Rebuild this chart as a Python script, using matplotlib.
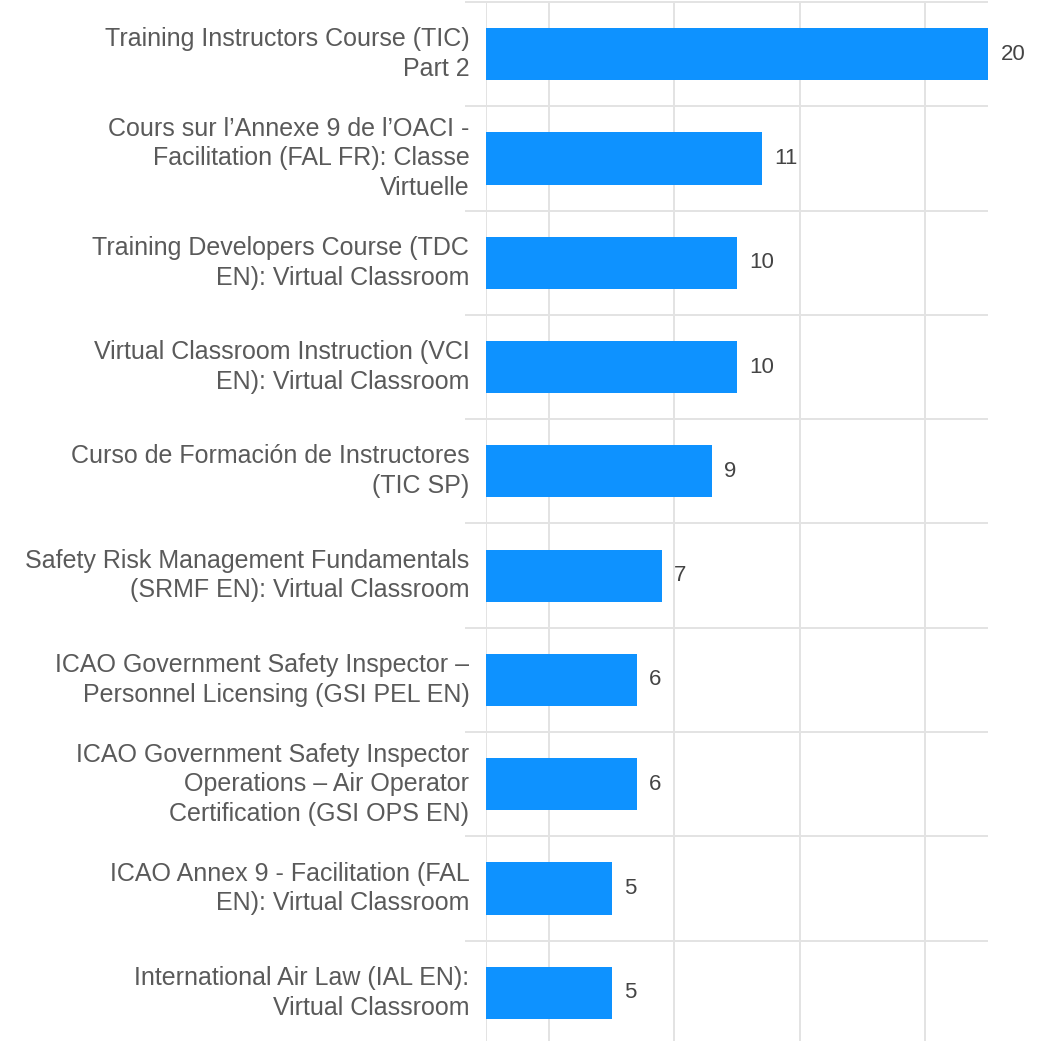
import matplotlib
matplotlib.use("Agg")
import matplotlib.pyplot as plt

courses = [
    "Training Instructors Course (TIC)\nPart 2",
    "Cours sur l\u2019Annexe 9 de l\u2019OACI -\nFacilitation (FAL FR): Classe\nVirtuelle",
    "Training Developers Course (TDC\nEN): Virtual Classroom",
    "Virtual Classroom Instruction (VCI\nEN): Virtual Classroom",
    "Curso de Formaci\u00f3n de Instructores\n(TIC SP)",
    "Safety Risk Management Fundamentals\n(SRMF EN): Virtual Classroom",
    "ICAO Government Safety Inspector \u2013\nPersonnel Licensing (GSI PEL EN)",
    "ICAO Government Safety Inspector\nOperations \u2013 Air Operator\nCertification (GSI OPS EN)",
    "ICAO Annex 9 - Facilitation (FAL\nEN): Virtual Classroom",
    "International Air Law (IAL EN):\nVirtual Classroom",
]
counts = [20, 11, 10, 10, 9, 7, 6, 6, 5, 5]
grid_x = [0, 2.5, 7.5, 12.5, 17.5]

W, H = 1055, 1041
fig = plt.figure(figsize=(W / 100, H / 100), dpi=100)
# axes from x=486..988 px, y=2..1045 px (top-down)
ax = fig.add_axes([486 / W, (H - 1045) / H, (988 - 486) / W, 1043 / H])

n = len(courses)
ypos = list(range(n))
ax.barh(ypos, counts, height=0.5, color="#0e92ff", zorder=3)
ax.set_xlim(0, 20)
ax.set_ylim(n - 0.5, -0.5)

for gx in grid_x:
    ax.axvline(gx, color="#e3e3e3", lw=1.4, zorder=1)
# category separators, extending a bit left of the axis
for b in range(n):
    ax.hlines(b - 0.5, -0.84, 20, color="#e3e3e3", lw=1.4, zorder=1, clip_on=False)

for y, c in zip(ypos, counts):
    ax.annotate(str(c), (c, y), xytext=(9, 0), textcoords="offset points",
                ha="left", va="center", fontsize=16, color="#444444",
                family="Liberation Sans", annotation_clip=False)

for y, lab in zip(ypos, courses):
    ax.annotate(lab, (0, y), xytext=(-12, 0), textcoords="offset points",
                ha="right", va="center", multialignment="right", fontsize=18,
                color="#5a5a5a", family="Liberation Sans", linespacing=1.3,
                annotation_clip=False)

ax.set_xticks([])
ax.set_yticks([])
for s in ax.spines.values():
    s.set_visible(False)

fig.savefig("out.png", dpi=100)
plt.close(fig)
